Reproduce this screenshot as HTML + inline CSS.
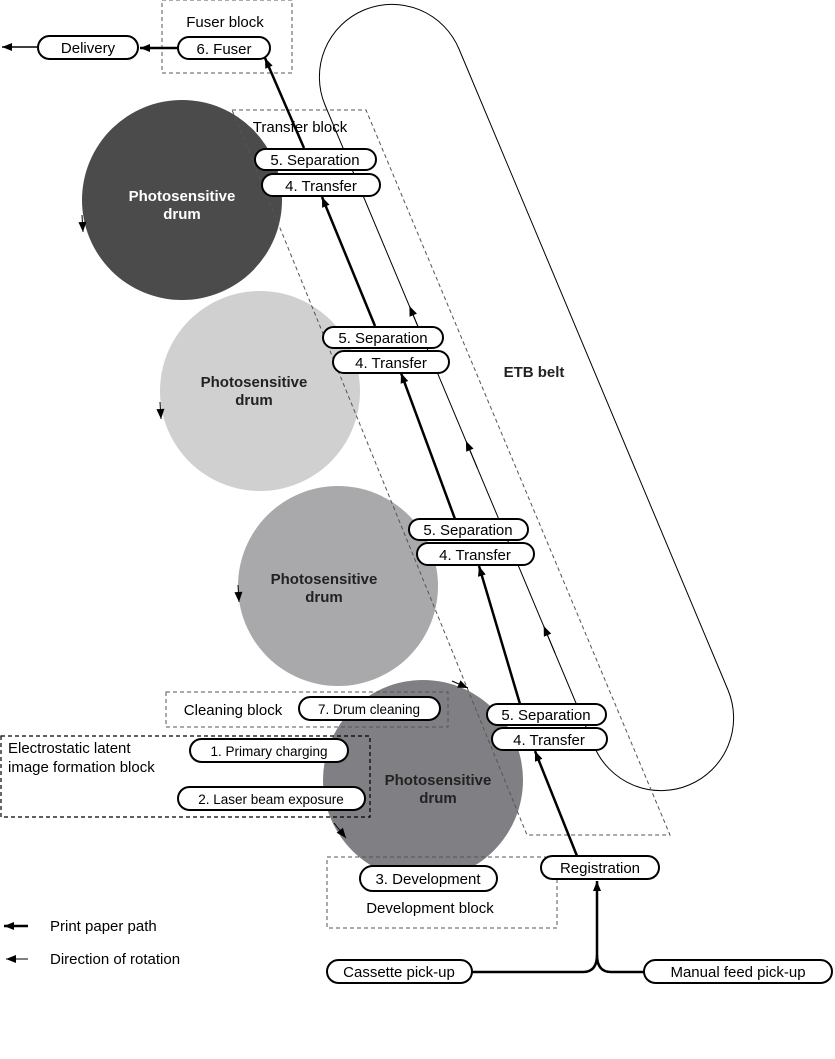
<!DOCTYPE html>
<html><head><style>
html,body{margin:0;padding:0;background:#fff;}
svg{display:block;font-family:"Liberation Sans",sans-serif;}
.p{fill:#fff;stroke:#000;stroke-width:2;}
.t{font-size:15px;fill:#000;text-anchor:middle;}
.ts{font-size:13.5px;fill:#000;text-anchor:middle;}
.d{fill:none;stroke:#555;stroke-width:1;stroke-dasharray:4,3;}
.dk{fill:none;stroke:#000;stroke-width:1.2;stroke-dasharray:4,3;}
.pp{stroke:#000;stroke-width:2.5;fill:none;}
.b{font-size:15px;font-weight:bold;text-anchor:middle;}
</style></head><body>
<svg width="835" height="1059" viewBox="0 0 835 1059">
<defs>
<marker id="ah2" viewBox="0 0 10 10" refX="10" refY="5" markerWidth="14" markerHeight="10" orient="auto" markerUnits="userSpaceOnUse">
<path d="M0,1 L10,5 L0,9 z" fill="#000"/></marker>
</defs>

<path d="M325,105 A72.5,72.5 0 0 1 459,49 L728,690 A72.5,72.5 0 0 1 594,746 Z" fill="none" stroke="#000" stroke-width="1"/>
<path d="M420.7,333 L409.4,306" stroke="#000" marker-end="url(#ah2)"/>
<path d="M477.3,468 L466,441" stroke="#000" marker-end="url(#ah2)"/>
<path d="M555,653 L543.7,626" stroke="#000" marker-end="url(#ah2)"/>

<circle cx="182" cy="200" r="100" fill="#4b4b4b"/>
<circle cx="260" cy="391" r="100" fill="#d0d0d0"/>
<circle cx="338" cy="586" r="100" fill="#a9a9ab"/>
<circle cx="423" cy="780" r="100" fill="#808084"/>

<polygon points="232,110 366,110 670,835 527,835" class="d"/>
<text x="300" y="132" class="t">Transfer block</text>

<rect x="162" y="0" width="130" height="73" class="d"/>
<text x="225" y="27" class="t">Fuser block</text>
<rect x="38" y="36" width="100" height="23" rx="11.5" class="p"/>
<text x="88" y="53" class="t">Delivery</text>
<rect x="178" y="37" width="92" height="22" rx="11" class="p"/>
<text x="224" y="54" class="t">6. Fuser</text>
<line x1="178" y1="48" x2="140" y2="48" class="pp" marker-end="url(#ah2)"/>
<line x1="38" y1="47" x2="2" y2="47" stroke="#000" stroke-width="1.5" marker-end="url(#ah2)"/>

<line x1="577" y1="856" x2="535" y2="751" class="pp" marker-end="url(#ah2)"/>
<line x1="520" y1="704" x2="479" y2="566" class="pp" marker-end="url(#ah2)"/>
<line x1="455" y1="519" x2="401" y2="373" class="pp" marker-end="url(#ah2)"/>
<line x1="375" y1="326" x2="322" y2="197" class="pp" marker-end="url(#ah2)"/>
<line x1="304" y1="148" x2="265" y2="58" class="pp" marker-end="url(#ah2)"/>

<text x="182" y="201" class="b" fill="#fff">Photosensitive</text>
<text x="182" y="219" class="b" fill="#fff">drum</text>
<text x="254" y="387" class="b" fill="#222">Photosensitive</text>
<text x="254" y="405" class="b" fill="#222">drum</text>
<text x="324" y="584" class="b" fill="#222">Photosensitive</text>
<text x="324" y="602" class="b" fill="#222">drum</text>
<text x="438" y="785" class="b" fill="#222">Photosensitive</text>
<text x="438" y="803" class="b" fill="#222">drum</text>
<text x="534" y="377" class="b" fill="#222">ETB belt</text>

<path d="M82,215 L83,232" stroke="#000" marker-end="url(#ah2)"/>
<path d="M160,402 L161,419" stroke="#000" marker-end="url(#ah2)"/>
<path d="M238,585 L239,602" stroke="#000" marker-end="url(#ah2)"/>
<path d="M334,823 L346,838" stroke="#000" marker-end="url(#ah2)"/>
<path d="M452,681 L468,688" stroke="#000" marker-end="url(#ah2)"/>

<rect x="255" y="149" width="121" height="21" rx="10.5" class="p"/><text x="315" y="165" class="t">5. Separation</text>
<rect x="262" y="174" width="118" height="22" rx="11" class="p"/><text x="321" y="191" class="t">4. Transfer</text>
<rect x="323" y="327" width="120" height="21" rx="10.5" class="p"/><text x="383" y="343" class="t">5. Separation</text>
<rect x="333" y="351" width="116" height="22" rx="11" class="p"/><text x="391" y="368" class="t">4. Transfer</text>
<rect x="409" y="519" width="119" height="21" rx="10.5" class="p"/><text x="468" y="535" class="t">5. Separation</text>
<rect x="417" y="543" width="117" height="22" rx="11" class="p"/><text x="475" y="560" class="t">4. Transfer</text>
<rect x="487" y="704" width="119" height="21" rx="10.5" class="p"/><text x="546" y="720" class="t">5. Separation</text>
<rect x="492" y="728" width="115" height="22" rx="11" class="p"/><text x="549" y="745" class="t">4. Transfer</text>

<rect x="166" y="692" width="282" height="35" class="d"/>
<text x="233" y="715" class="t">Cleaning block</text>
<rect x="299" y="697" width="141" height="23" rx="11.5" class="p"/>
<text x="369" y="714" class="ts">7. Drum cleaning</text>

<rect x="1" y="736" width="369" height="81" class="dk"/>
<text x="8" y="753" font-size="15">Electrostatic latent</text>
<text x="8" y="772" font-size="15">image formation block</text>
<rect x="190" y="739" width="158" height="23" rx="11.5" class="p"/>
<text x="269" y="756" class="ts">1. Primary charging</text>
<rect x="178" y="787" width="187" height="23" rx="11.5" class="p"/>
<text x="271" y="804" class="ts">2. Laser beam exposure</text>

<rect x="327" y="857" width="230" height="71" class="d"/>
<rect x="360" y="866" width="137" height="25" rx="12.5" class="p"/>
<text x="428" y="884" class="t">3. Development</text>
<text x="430" y="913" class="t">Development block</text>

<rect x="541" y="856" width="118" height="23" rx="11.5" class="p"/>
<text x="600" y="873" class="t">Registration</text>
<rect x="327" y="960" width="145" height="23" rx="11.5" class="p"/>
<text x="399" y="977" class="t">Cassette pick-up</text>
<rect x="644" y="960" width="188" height="23" rx="11.5" class="p"/>
<text x="738" y="977" class="t">Manual feed pick-up</text>
<path d="M472,972 L583,972 Q597,972 597,955 Q597,972 611,972 L644,972" class="pp"/>
<line x1="597" y1="956" x2="597" y2="881" class="pp" marker-end="url(#ah2)"/>

<line x1="28" y1="926" x2="4" y2="926" stroke="#000" stroke-width="2.5" marker-end="url(#ah2)"/>
<text x="50" y="931" font-size="15">Print paper path</text>
<line x1="28" y1="959" x2="6" y2="959" stroke="#000" stroke-width="1" marker-end="url(#ah2)"/>
<text x="50" y="964" font-size="15">Direction of rotation</text>
</svg>
</body></html>
